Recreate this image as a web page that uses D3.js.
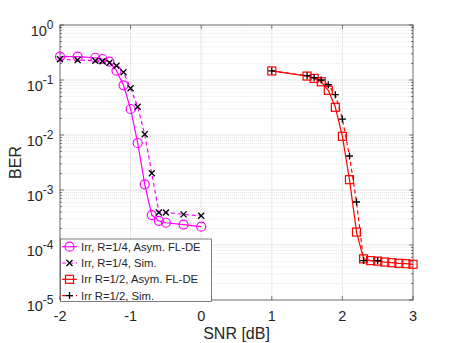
<!DOCTYPE html>
<html>
<head>
<meta charset="utf-8">
<script src="https://cdn.jsdelivr.net/npm/d3@7"></script>
<style>
  body { margin: 0; background: #fff; }
  text { font-family: "Liberation Sans", Arial, sans-serif; fill: #262626; }
</style>
</head>
<body>
<div id="chart"></div>
<script>
// R=1/4 curves
const snrQuarter = [-2, -1.75, -1.5, -1.4, -1.3, -1.2, -1.1, -1.0, -0.9, -0.8, -0.7, -0.6, -0.5, -0.25, 0];
const berQuarterDE = [0.265, 0.265, 0.254, 0.241, 0.215, 0.148, 0.080, 0.0297, 0.00716, 0.00127, 3.5e-4, 2.75e-4, 2.54e-4, 2.35e-4, 2.15e-4];
const berQuarterSim = [0.238, 0.231, 0.224, 0.219, 0.206, 0.182, 0.138, 0.0706, 0.0327, 0.0103, 0.00201, 3.9e-4, 3.9e-4, 3.6e-4, 3.4e-4];

// R=1/2 curves
const snrHalf = [1.0, 1.5, 1.6, 1.7, 1.8, 1.9, 2.0, 2.1, 2.2, 2.3, 2.4, 2.5, 2.6, 2.7, 2.8, 2.9, 3.0];
const berHalfDE = [0.146, 0.118, 0.107, 0.093, 0.065, 0.0319, 0.00946, 0.00154, 1.72e-4, 5.6e-5, 5.2e-5, 5.1e-5, 4.9e-5, 4.77e-5, 4.65e-5, 4.57e-5, 4.46e-5];
const snrHalfSim = [1.0, 1.5, 1.6, 1.7, 1.8, 1.9, 2.0, 2.1, 2.2, 2.3, 2.5];
const berHalfSim = [0.146, 0.12, 0.11, 0.1, 0.082, 0.054, 0.0195, 0.00415, 6.05e-4, 5.2e-5, 5.2e-5];

const xTicks = [-2, -1, 0, 1, 2, 3];
const yExps = [0, -1, -2, -3, -4, -5];
const legendLabels = ['Irr, R=1/4, Asym. FL-DE', 'Irr, R=1/4, Sim.', 'Irr R=1/2, Asym. FL-DE', 'Irr R=1/2, Sim.'];

const width = 457, height = 343;
const margin = {left: 60, right: 44, top: 25, bottom: 43};
const axisCol = '#262626';

const svg = d3.select('#chart').append('svg')
    .attr('width', width).attr('height', height);

const x = d3.scaleLinear().domain([-2, 3]).range([margin.left, width - margin.right]);
const y = d3.scaleLog().domain([1e-5, 1]).range([height - margin.bottom, margin.top]);

// grid
const minorY = [];
for (let e = -5; e < 0; e++) {
    for (let k = 2; k <= 9; k++) minorY.push(k * Math.pow(10, e));
}
const grid = svg.append('g');
grid.selectAll('line.minor').data(minorY).enter().append('line')
    .attr('x1', x(-2)).attr('x2', x(3))
    .attr('y1', d => y(d)).attr('y2', d => y(d))
    .attr('stroke', '#e3e3e3').attr('stroke-width', 0.8).attr('stroke-dasharray', '1,1');
grid.selectAll('line.majy').data(yExps.map(e => Math.pow(10, e))).enter().append('line')
    .attr('x1', x(-2)).attr('x2', x(3))
    .attr('y1', d => y(d)).attr('y2', d => y(d))
    .attr('stroke', '#e0e0e0').attr('stroke-width', 0.8);
grid.selectAll('line.majx').data(xTicks).enter().append('line')
    .attr('x1', d => x(d)).attr('x2', d => x(d))
    .attr('y1', y(1)).attr('y2', y(1e-5))
    .attr('stroke', '#e0e0e0').attr('stroke-width', 0.8);

// axes box
svg.append('rect')
    .attr('x', x(-2)).attr('y', y(1))
    .attr('width', x(3) - x(-2)).attr('height', y(1e-5) - y(1))
    .attr('fill', 'none').attr('stroke', axisCol).attr('stroke-width', 0.6);

// ticks (inward, both sides)
const tk = svg.append('g').attr('stroke', axisCol).attr('stroke-width', 0.6);
xTicks.forEach(v => {
    tk.append('line').attr('x1', x(v)).attr('x2', x(v)).attr('y1', y(1e-5)).attr('y2', y(1e-5) - 4);
    tk.append('line').attr('x1', x(v)).attr('x2', x(v)).attr('y1', y(1)).attr('y2', y(1) + 4);
});
yExps.forEach(e => {
    const yy = y(Math.pow(10, e));
    tk.append('line').attr('x1', x(-2)).attr('x2', x(-2) + 4).attr('y1', yy).attr('y2', yy);
    tk.append('line').attr('x1', x(3)).attr('x2', x(3) - 4).attr('y1', yy).attr('y2', yy);
});
minorY.forEach(v => {
    tk.append('line').attr('x1', x(-2)).attr('x2', x(-2) + 2).attr('y1', y(v)).attr('y2', y(v));
    tk.append('line').attr('x1', x(3)).attr('x2', x(3) - 2).attr('y1', y(v)).attr('y2', y(v));
});

// tick labels
svg.selectAll('text.xt').data(xTicks).enter().append('text')
    .attr('x', d => x(d)).attr('y', y(1e-5) + 21)
    .attr('text-anchor', 'middle').attr('font-size', 14.5)
    .text(d => d);
yExps.forEach(e => {
    const t = svg.append('text')
        .attr('x', x(-2) - 6.5).attr('y', y(Math.pow(10, e)) + 11)
        .attr('text-anchor', 'end').attr('font-size', 14.5);
    t.append('tspan').text('10');
    t.append('tspan').attr('dy', -7.5).attr('font-size', 12).text(e);
});

svg.append('text')
    .attr('x', (x(-2) + x(3)) / 2).attr('y', 338.5)
    .attr('text-anchor', 'middle').attr('font-size', 16)
    .text('SNR [dB]');
svg.append('text')
    .attr('transform', 'translate(21,' + ((y(1) + y(1e-5)) / 2) + ') rotate(-90)')
    .attr('text-anchor', 'middle').attr('font-size', 16)
    .text('BER');

// series
const line = d3.line().x(d => x(d[0])).y(d => y(d[1]));
const series = [
    {xs: snrQuarter, ys: berQuarterDE, col: '#ff00ff', dash: null, mk: 'circle', mkCol: '#ff00ff'},
    {xs: snrQuarter, ys: berQuarterSim, col: '#ff00ff', dash: '4,3', mk: 'x', mkCol: '#000'},
    {xs: snrHalf, ys: berHalfDE, col: '#ff0000', dash: null, mk: 'square', mkCol: '#ff0000'},
    {xs: snrHalfSim, ys: berHalfSim, col: '#ff0000', dash: '4,3', mk: 'plus', mkCol: '#000'}
];

function marker(g, type, cx, cy, col) {
    if (type === 'circle') {
        g.append('circle').attr('cx', cx).attr('cy', cy).attr('r', 4.5)
            .attr('fill', 'none').attr('stroke', col).attr('stroke-width', 1.2);
    } else if (type === 'square') {
        g.append('rect').attr('x', cx - 4).attr('y', cy - 4).attr('width', 8).attr('height', 8)
            .attr('fill', 'none').attr('stroke', col).attr('stroke-width', 1.2);
    } else if (type === 'x') {
        const s = 3;
        g.append('path').attr('d', `M${cx - s},${cy - s}L${cx + s},${cy + s}M${cx - s},${cy + s}L${cx + s},${cy - s}`)
            .attr('stroke', col).attr('stroke-width', 1.3);
    } else {
        const s = 3.5;
        g.append('path').attr('d', `M${cx - s},${cy}L${cx + s},${cy}M${cx},${cy - s}L${cx},${cy + s}`)
            .attr('stroke', col).attr('stroke-width', 1.3);
    }
}

series.forEach(s => {
    const pts = s.xs.map((v, i) => [v, s.ys[i]]);
    const g = svg.append('g');
    g.append('path').datum(pts)
        .attr('d', line).attr('fill', 'none')
        .attr('stroke', s.col).attr('stroke-width', 1.2)
        .attr('stroke-dasharray', s.dash);
    pts.forEach(p => marker(g, s.mk, x(p[0]), y(p[1]), s.mkCol));
});

// legend
const lg = svg.append('g');
lg.append('rect')
    .attr('x', 60.5).attr('y', 239).attr('width', 151).attr('height', 62.5)
    .attr('fill', '#fff').attr('stroke', axisCol).attr('stroke-width', 0.6);
legendLabels.forEach((lab, i) => {
    const s = series[i];
    const yy = 246.7 + i * 16.3;
    lg.append('line').attr('x1', 62).attr('x2', 77).attr('y1', yy).attr('y2', yy)
        .attr('stroke', s.col).attr('stroke-width', 1.2).attr('stroke-dasharray', s.dash);
    marker(lg, s.mk, 69.5, yy, s.mkCol);
    lg.append('text').attr('x', 81).attr('y', yy + 4)
        .attr('font-size', 11.3).text(lab);
});
</script>
</body>
</html>
